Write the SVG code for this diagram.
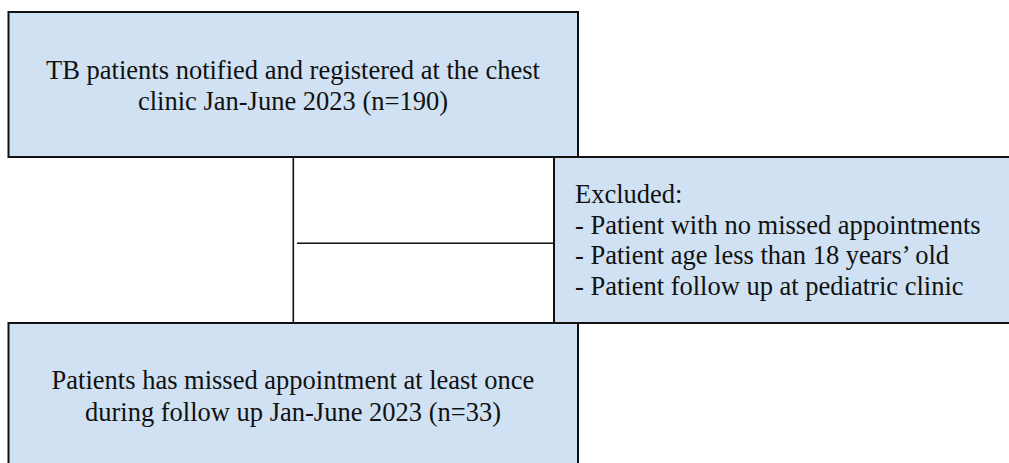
<svg xmlns="http://www.w3.org/2000/svg" width="1009" height="463" viewBox="0 0 1009 463">
  <style>
    .box { fill: #cfe1f2; stroke: #111; stroke-width: 2; }
    .line { stroke: #111; stroke-width: 1.6; fill: none; }
    .t { font-family: "Liberation Serif", "Times New Roman", serif; font-size: 26.5px; fill: #111; }
    .c { text-anchor: middle; }
  </style>
  <rect width="1009" height="463" fill="#ffffff"/>
  <g id="connectors">
    <line class="line" x1="293.3" y1="157" x2="293.3" y2="323"/>
    <line class="line" x1="297" y1="243.3" x2="554" y2="243.3"/>
  </g>
  <g id="node-registered">
    <rect class="box" x="8.5" y="12" width="569.5" height="145"/>
    <text class="t c" x="293" y="78.5">TB patients notified and registered at the chest</text>
    <text class="t c" x="293" y="109.5">clinic Jan-June 2023 (n=190)</text>
  </g>
  <g id="node-excluded">
    <rect class="box" x="554" y="157" width="470" height="166"/>
    <text class="t" x="575" y="203.3">Excluded:</text>
    <text class="t" x="575" y="233.8">- Patient with no missed appointments</text>
    <text class="t" x="575" y="264.3">- Patient age less than 18 years’ old</text>
    <text class="t" x="575" y="294.8">- Patient follow up at pediatric clinic</text>
  </g>
  <g id="node-missed">
    <rect class="box" x="8.5" y="323" width="569.5" height="150"/>
    <text class="t c" x="293" y="389.3">Patients has missed appointment at least once</text>
    <text class="t c" x="293" y="420.5">during follow up Jan-June 2023 (n=33)</text>
  </g>
</svg>
